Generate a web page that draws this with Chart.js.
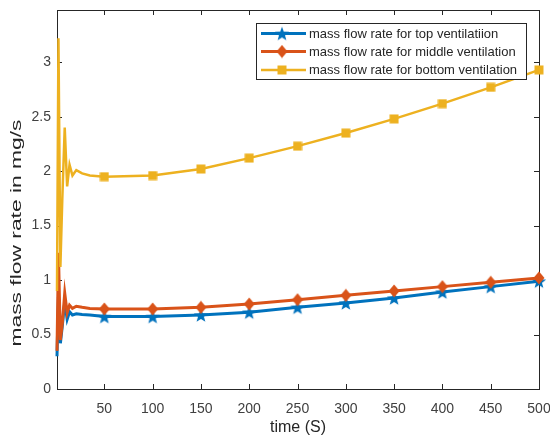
<!DOCTYPE html>
<html>
<head>
<meta charset="utf-8">
<script src="https://cdn.jsdelivr.net/npm/chart.js@4.4.0/dist/chart.umd.min.js"></script>
<style>
	html, body { margin: 0; padding: 0; background: #fff; }
	#wrap { width: 550px; height: 440px; }
</style>
</head>
<body>
<div id="wrap"><canvas id="flowChart" width="550" height="440"></canvas></div>
<script>
"use strict";

// time axis in seconds, dense at the start where the flow oscillates
const timeS = [1, 2.5, 4.5, 6.5, 9, 11.5, 14, 17, 21, 27, 35, 50, 100, 150, 200, 250, 300, 350, 400, 450, 500];
const topFlow = [0.30, 0.85, 0.42, 0.58, 0.80, 0.64, 0.71, 0.68, 0.69, 0.685, 0.68, 0.665, 0.665, 0.68, 0.705, 0.75, 0.79, 0.835, 0.89, 0.94, 0.99];
const middleFlow = [0.35, 1.25, 0.45, 0.60, 0.88, 0.70, 0.77, 0.74, 0.76, 0.75, 0.74, 0.735, 0.735, 0.75, 0.78, 0.82, 0.86, 0.90, 0.94, 0.98, 1.02];
const bottomFlow = [0.90, 3.22, 1.12, 1.75, 2.40, 1.86, 2.06, 1.96, 2.01, 1.98, 1.96, 1.95, 1.96, 2.02, 2.12, 2.23, 2.35, 2.48, 2.62, 2.77, 2.93];

const seriesNames = [
	"mass flow rate for top ventilatiion",
	"mass flow rate for middle ventilation",
	"mass flow rate for bottom ventilation",
];
const xTicks = [50, 100, 150, 200, 250, 300, 350, 400, 450, 500];
const yTicks = [0, 0.5, 1, 1.5, 2, 2.5, 3];

const fontFam = '"Liberation Sans", Arial, Helvetica, sans-serif';
const axisColor = "#262626";

const makeMarker = (size, draw) => {
	const c = document.createElement("canvas");
	c.width = size;
	c.height = size;
	draw(c.getContext("2d"), size);
	return c;
};

const starMarker = makeMarker(16, (g, s) => {
	const cx = s / 2, cy = s / 2 + 0.8, ro = 7.5, ri = 3.1;
	g.beginPath();
	for (let i = 0; i < 10; i++) {
		const r = i % 2 === 0 ? ro : ri;
		const a = -Math.PI / 2 + (i * Math.PI) / 5;
		g.lineTo(cx + r * Math.cos(a), cy + r * Math.sin(a));
	}
	g.closePath();
	g.fillStyle = "#0072BD";
	g.fill();
});

const diamondMarker = makeMarker(14, (g, s) => {
	g.beginPath();
	g.moveTo(s / 2, 0.5);
	g.lineTo(s - 1.5, s / 2);
	g.lineTo(s / 2, s - 0.5);
	g.lineTo(1.5, s / 2);
	g.closePath();
	g.fillStyle = "#D95319";
	g.fill();
});

const squareMarker = makeMarker(10, (g, s) => {
	g.fillStyle = "#EDB120";
	g.fillRect(0.5, 0.5, s - 1, s - 1);
});

const toPoints = (vals) => timeS.map((t, i) => ({ x: t, y: vals[i] }));
const isMarked = (ctx) => timeS[ctx.dataIndex] % 50 === 0;

const makeSet = (label, vals, color, width, marker, order) => ({
	label: label,
	data: toPoints(vals),
	borderColor: color,
	backgroundColor: color,
	borderWidth: width,
	tension: 0,
	order: order,
	clip: 10,
	pointStyle: marker,
	pointRadius: (ctx) => (isMarked(ctx) ? 6 : 0),
	pointHoverRadius: 0,
});

const boxPlugin = {
	id: "matlabBox",
	beforeDatasetsDraw(chart) {
		const { ctx, chartArea: a } = chart;
		const xs = chart.scales.x;
		const ys = chart.scales.y;
		ctx.save();
		ctx.strokeStyle = axisColor;
		ctx.lineWidth = 1;
		ctx.strokeRect(Math.round(a.left) + 0.5, Math.round(a.top) + 0.5,
			Math.round(a.right - a.left), Math.round(a.bottom - a.top));
		ctx.beginPath();
		xTicks.forEach((v) => {
			const px = Math.round(xs.getPixelForValue(v)) + 0.5;
			ctx.moveTo(px, a.bottom);
			ctx.lineTo(px, a.bottom - 5);
			ctx.moveTo(px, a.top);
			ctx.lineTo(px, a.top + 5);
		});
		yTicks.forEach((v) => {
			const py = Math.round(ys.getPixelForValue(v)) + 0.5;
			ctx.moveTo(a.left, py);
			ctx.lineTo(a.left + 5, py);
			ctx.moveTo(a.right, py);
			ctx.lineTo(a.right - 5, py);
		});
		ctx.stroke();
		ctx.restore();
	},
	afterDraw(chart) {
		const ctx = chart.ctx;
		ctx.save();

		// y axis label, stretched along its length like the original figure
		ctx.translate(17, 233);
		ctx.rotate(-Math.PI / 2);
		ctx.font = "15px " + fontFam;
		ctx.fillStyle = axisColor;
		ctx.textAlign = "center";
		ctx.textBaseline = "middle";
		const yl = "mass flow rate in mg/s";
		const w = ctx.measureText(yl).width;
		ctx.scale(227 / w, 1);
		ctx.fillText(yl, 0, 0);
		ctx.restore();

		// legend box
		ctx.save();
		const bx = 256, by = 23, bw = 270, bh = 56;
		ctx.fillStyle = "#fff";
		ctx.fillRect(bx, by, bw, bh);
		ctx.strokeStyle = axisColor;
		ctx.lineWidth = 1;
		ctx.strokeRect(bx + 0.5, by + 0.5, bw, bh);
		const rows = [33.5, 51.5, 70];
		chart.data.datasets.forEach((ds, i) => {
			const y = rows[i];
			ctx.strokeStyle = ds.borderColor;
			ctx.lineWidth = ds.borderWidth;
			ctx.beginPath();
			ctx.moveTo(261, y);
			ctx.lineTo(306, y);
			ctx.stroke();
			const m = ds.pointStyle;
			ctx.drawImage(m, 282 - m.width / 2, y - m.height / 2);
			ctx.fillStyle = axisColor;
			ctx.font = "13px " + fontFam;
			ctx.textAlign = "left";
			ctx.textBaseline = "middle";
			ctx.fillText(seriesNames[i], 309, y + 0.5);
		});
		ctx.restore();
	},
};

const tickFont = { family: fontFam, size: 14 };

new Chart(document.getElementById("flowChart").getContext("2d"), {
	type: "line",
	data: {
		datasets: [
			makeSet(seriesNames[0], topFlow, "#0072BD", 3, starMarker, 3),
			makeSet(seriesNames[1], middleFlow, "#D95319", 3, diamondMarker, 2),
			makeSet(seriesNames[2], bottomFlow, "#EDB120", 2.5, squareMarker, 1),
		],
	},
	options: {
		responsive: false,
		animation: false,
		devicePixelRatio: 1,
		layout: { padding: { top: 10, right: 11, left: 0, bottom: 0 } },
		plugins: {
			legend: { display: false },
			tooltip: { enabled: false },
		},
		scales: {
			x: {
				type: "linear",
				min: 1,
				max: 500,
				afterBuildTicks: (s) => {
					s.ticks = xTicks.map((v) => ({ value: v }));
				},
				afterFit: (s) => {
					s.height = 51;
					s.paddingLeft = 0;
					s.paddingRight = 0;
				},
				grid: { display: false, drawTicks: false },
				border: { display: false },
				ticks: {
					color: "#404040",
					font: tickFont,
					padding: 12,
					maxRotation: 0,
					autoSkip: false,
				},
				title: {
					display: true,
					text: "time (S)",
					color: axisColor,
					font: { family: fontFam, size: 16 },
					padding: { top: 0, bottom: 3 },
				},
			},
			y: {
				type: "linear",
				min: 0,
				max: 3.48,
				afterBuildTicks: (s) => {
					s.ticks = yTicks.map((v) => ({ value: v }));
				},
				afterFit: (s) => {
					s.width = 57;
					s.paddingTop = 0;
					s.paddingBottom = 0;
				},
				grid: { display: false, drawTicks: false },
				border: { display: false },
				ticks: {
					color: "#404040",
					font: tickFont,
					padding: 6,
					callback: (v) => String(v),
				},
			},
		},
	},
	plugins: [boxPlugin],
});
</script>
</body>
</html>
